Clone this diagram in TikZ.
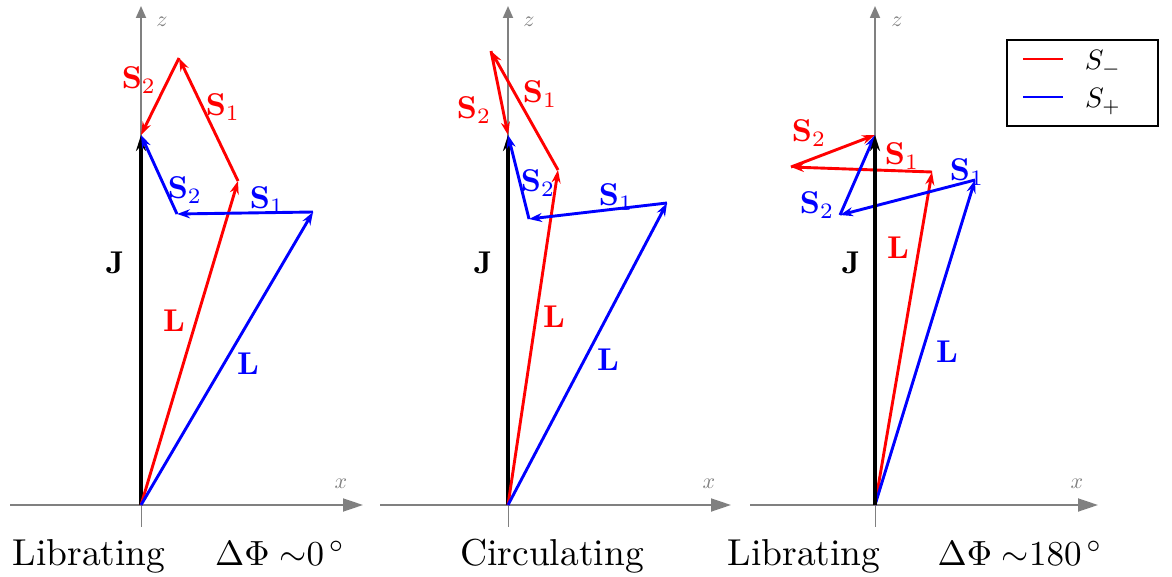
\documentclass[tikz,border=0pt]{standalone}
\usepackage{fix-cm}
\usetikzlibrary{arrows.meta}
\definecolor{axgray}{gray}{0.5}
\tikzset{
  axisline/.style={draw=axgray, line width=1.8pt, -{Triangle[length=20pt,width=13pt]}},
  zaxisline/.style={draw=axgray, line width=1.8pt, -{Triangle[length=12pt,width=10pt]}},
  tickline/.style={draw=axgray, line width=1pt},
  axlabel/.style={text=axgray, font=\fontsize{10}{12}\selectfont, scale=2.2, inner sep=0pt},
  jvec/.style={draw=black, line width=3.6pt, -{Stealth[length=16pt,width=10pt]}},
  rvec/.style={draw=red, line width=2.9pt, -{Stealth[length=13pt,width=9pt]}},
  bvec/.style={draw=blue, line width=2.9pt, -{Stealth[length=13pt,width=9pt]}},
  vlab/.style={font=\fontsize{10}{12}\selectfont, scale=3.15, inner sep=0pt},
  caption/.style={font=\fontsize{10}{12}\selectfont, scale=3.75, anchor=base, inner sep=0pt},
  mcaption/.style={font=\fontsize{10}{12}\selectfont, scale=3.5, anchor=base, inner sep=0pt},
  legtext/.style={font=\fontsize{10}{12}\selectfont, scale=2.8, anchor=base, inner sep=0pt}
}
\begin{document}
\begin{tikzpicture}[x=1pt, y=-1pt]
\useasboundingbox (0,0) rectangle (1172,577);

% ---------------- Panel 1 ----------------
\coordinate (O1) at (141,505);
\coordinate (X1s) at (10,505);
\coordinate (X1e) at (363,505);
\coordinate (Z1e) at (141,6);
\coordinate (T1) at (141,527);
\coordinate (J1) at (141,135);
\coordinate (RL1) at (238,181);
\coordinate (RA1) at (179,58);
\coordinate (BL1) at (313,212);
\coordinate (BA1) at (177,214);
\draw[tickline] (O1) -- (T1);
\draw[axisline] (X1s) -- (X1e);
\draw[zaxisline] (O1) -- (Z1e);
\node[axlabel] (x1) at (341,484) {$x$};
\node[axlabel] (z1) at (162,22) {$z$};
\draw[jvec] (O1) -- (J1);
\draw[rvec] (O1) -- (RL1);
\draw[rvec] (RL1) -- (RA1);
\draw[rvec] (RA1) -- (J1);
\draw[bvec] (O1) -- (BL1);
\draw[bvec] (BL1) -- (BA1);
\draw[bvec] (BA1) -- (J1);
\node[vlab, text=red] (rs2a) at (139,80) {$\mathbf{S}_2$};
\node[vlab, text=red] (rs1a) at (223,107) {$\mathbf{S}_1$};
\node[vlab, text=blue] (bs2a) at (185,190) {$\mathbf{S}_2$};
\node[vlab, text=blue] (bs1a) at (267,200) {$\mathbf{S}_1$};
\node[vlab] (ja) at (115,263) {$\mathbf{J}$};
\node[vlab, text=red] (rla) at (174,321) {$\mathbf{L}$};
\node[vlab, text=blue] (bla) at (248,364) {$\mathbf{L}$};

% ---------------- Panel 2 ----------------
\coordinate (O2) at (508,505);
\coordinate (X2s) at (380,505);
\coordinate (X2e) at (731,505);
\coordinate (Z2e) at (508,6);
\coordinate (T2) at (508,527);
\coordinate (J2) at (508,135);
\coordinate (RL2) at (558,170);
\coordinate (RA2) at (491,51);
\coordinate (BL2) at (667,203);
\coordinate (BA2) at (529,219);
\draw[tickline] (O2) -- (T2);
\draw[axisline] (X2s) -- (X2e);
\draw[zaxisline] (O2) -- (Z2e);
\node[axlabel] (x2) at (709,484) {$x$};
\node[axlabel] (z2) at (529,22) {$z$};
\draw[jvec] (O2) -- (J2);
\draw[rvec] (O2) -- (RL2);
\draw[rvec] (RL2) -- (RA2);
\draw[rvec] (RA2) -- (J2);
\draw[bvec] (O2) -- (BL2);
\draw[bvec] (BL2) -- (BA2);
\draw[bvec] (BA2) -- (J2);
\node[vlab, text=red] (rs2b) at (474,110) {$\mathbf{S}_2$};
\node[vlab, text=red] (rs1b) at (540,94) {$\mathbf{S}_1$};
\node[vlab, text=blue] (bs2b) at (538,183) {$\mathbf{S}_2$};
\node[vlab, text=blue] (bs1b) at (616,197) {$\mathbf{S}_1$};
\node[vlab] (jb) at (483,263) {$\mathbf{J}$};
\node[vlab, text=red] (rlb) at (554,317) {$\mathbf{L}$};
\node[vlab, text=blue] (blb) at (608,360) {$\mathbf{L}$};

% ---------------- Panel 3 ----------------
\coordinate (O3) at (875,505);
\coordinate (X3s) at (750,505);
\coordinate (X3e) at (1098,505);
\coordinate (Z3e) at (875,6);
\coordinate (T3) at (875,527);
\coordinate (J3) at (875,135);
\coordinate (RL3) at (932,172);
\coordinate (RA3) at (791,167);
\coordinate (BL3) at (975,180);
\coordinate (BA3) at (840,215);
\draw[tickline] (O3) -- (T3);
\draw[axisline] (X3s) -- (X3e);
\draw[zaxisline] (O3) -- (Z3e);
\node[axlabel] (x3) at (1077,484) {$x$};
\node[axlabel] (z3) at (897,22) {$z$};
\draw[rvec] (O3) -- (RL3);
\draw[rvec] (RL3) -- (RA3);
\draw[rvec] (RA3) -- (J3);
\draw[bvec] (O3) -- (BL3);
\draw[bvec] (BL3) -- (BA3);
\draw[bvec] (BA3) -- (J3);
\draw[jvec] (O3) -- (J3);
\node[vlab, text=red] (rs2c) at (809,133) {$\mathbf{S}_2$};
\node[vlab, text=red] (rs1c) at (902,156) {$\mathbf{S}_1$};
\node[vlab, text=blue] (bs2c) at (817,205) {$\mathbf{S}_2$};
\node[vlab, text=blue] (bs1c) at (967,172) {$\mathbf{S}_1$};
\node[vlab] (jc) at (851,263) {$\mathbf{J}$};
\node[vlab, text=red] (rlc) at (898,248) {$\mathbf{L}$};
\node[vlab, text=blue] (blc) at (947,352) {$\mathbf{L}$};

% ---------------- Legend ----------------
\node[draw=black, line width=1.3pt, minimum width=151pt, minimum height=86pt, inner sep=0pt] (legend) at (1082.5,83) {};
\coordinate (lr1) at (1023,59);
\coordinate (lr2) at (1063,59);
\coordinate (lb1) at (1023,97);
\coordinate (lb2) at (1063,97);
\draw[red, line width=2pt] (lr1) -- (lr2);
\draw[blue, line width=2pt] (lb1) -- (lb2);
\node[legtext] (sm) at (1103,70) {$S_-$};
\node[legtext] (sp) at (1103,108) {$S_+$};

% ---------------- Captions ----------------
\node[caption] (c1) at (89,565) {Librating};
\node[mcaption] (c2) at (280,565) {$\Delta\Phi\;{\sim}0^{\,\circ}$};
\node[caption] (c3) at (552,565) {Circulating};
\node[caption] (c4) at (804,565) {Librating};
\node[mcaption] (c5) at (1020,565) {$\Delta\Phi\;{\sim}180^{\,\circ}$};
\end{tikzpicture}
\end{document}
